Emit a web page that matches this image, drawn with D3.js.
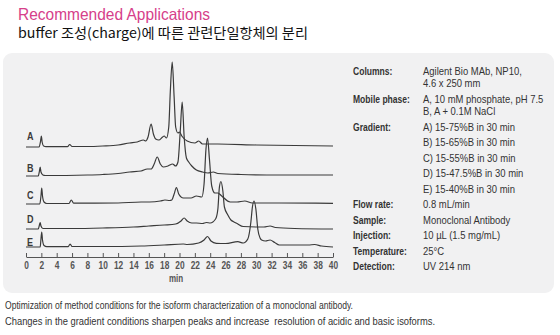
<!DOCTYPE html>
<html>
<head>
<meta charset="utf-8">
<script src="https://cdn.jsdelivr.net/npm/d3@7/dist/d3.min.js"></script>
<style>
  html, body { margin: 0; padding: 0; background: #ffffff; }
  svg { display: block; }
  text { font-family: "Liberation Sans", Arial, sans-serif; }
</style>
</head>
<body>
<svg id="chart" width="560" height="335"></svg>
<script>
// Ion-exchange chromatograms of a monoclonal antibody, one trace per gradient.
// Each trace: [retention time (min), detector signal (a.u.)]
const traceNames = ["A", "B", "C", "D", "E"];

const traceA = [
  [0, 0], [1.7, 0], [1.9, 6], [2.0, 11], [2.1, 5], [2.3, 1], [2.6, 0.3],
  [5.4, 0.3], [5.7, 2.5], [6.0, 0.5], [8, 0.5], [10, 1], [12, 2], [13.5, 4],
  [14.5, 5], [15.3, 7], [15.6, 6], [15.9, 10], [16.3, 23], [16.6, 13], [16.9, 8],
  [17.3, 7], [17.8, 10], [18.0, 11], [18.3, 9], [18.6, 20], [18.8, 55], [19.05, 85],
  [19.3, 50], [19.5, 20], [19.8, 14], [20.0, 15], [20.3, 11], [21, 6], [22, 4],
  [22.5, 6], [23, 3], [25, 3], [30, 2], [40, 1]
];
const traceB = [
  [0, 0], [1.6, 0], [1.75, 5], [1.85, 9], [1.95, 4], [2.2, 1], [2.5, 0.5],
  [8, 1], [10, 1.5], [12, 2.5], [13.5, 4], [15, 5], [15.8, 7], [16.3, 7],
  [16.7, 12], [17.1, 19], [17.5, 12], [17.9, 9], [18.5, 10], [19.1, 12], [19.5, 10],
  [19.8, 14], [20.1, 45], [20.35, 74], [20.6, 40], [20.9, 18], [21.2, 14], [21.6, 10],
  [22.2, 6], [23, 4], [23.7, 3], [24.4, 4], [25, 2.5], [28, 1.5], [33, 1], [40, 1]
];
const traceC = [
  [0, 0], [1.8, 0], [1.95, 8], [2.05, 16], [2.15, 8], [2.35, 2], [2.7, 0.5],
  [5.6, 0.5], [5.9, 4], [6.2, 0.8], [9, 0.8], [12, 1], [15, 2], [16.1, 2],
  [17.5, 3], [18.1, 4], [18.7, 3.5], [19.0, 4], [19.3, 10], [19.6, 16.5], [19.9, 10],
  [20.5, 6], [21.5, 6], [22.2, 8], [22.9, 7], [23.2, 20], [23.45, 55], [23.65, 66],
  [23.9, 45], [24.2, 18], [24.6, 11], [25.0, 11], [25.5, 8], [26.6, 2], [27.5, 2],
  [28.5, 3], [29.5, 1], [33, 1], [40, 0.7]
];
const traceD = [
  [0, 0], [1.6, 0], [1.75, 4], [1.85, 6.5], [1.95, 3], [2.2, 0.5], [6, 0.5],
  [10, 1], [14, 2], [16, 3], [18, 4], [19.5, 5], [20.2, 8], [20.6, 11], [21.0, 8],
  [21.6, 6], [22.2, 6], [23.0, 5.5], [23.5, 6.5], [24.0, 6], [24.7, 10], [25.0, 20],
  [25.2, 42], [25.4, 47.5], [25.65, 38], [25.85, 22], [26.3, 14], [26.7, 9], [27.0, 7.5],
  [27.5, 5.5], [28.3, 2.5], [30, 2], [31.0, 2], [31.8, 3], [32.5, 1.5], [35, 0.5], [40, 0]
];
const traceE = [
  [0, 0], [1.85, 0], [1.95, 8], [2.05, 15], [2.15, 7], [2.35, 1.5], [2.7, 0.3],
  [5.5, 0.3], [5.75, 3], [6.0, 0.5], [10, 0.5], [15, 1], [18, 2], [20.5, 3], [21, 2.5],
  [22.5, 4], [23.2, 7], [23.65, 10.5], [24.1, 6], [24.8, 3.7], [26, 3.5], [27.6, 5.3],
  [28.3, 4], [28.9, 8], [29.3, 25], [29.5, 40], [29.7, 46], [29.95, 38], [30.2, 18],
  [30.5, 9], [30.7, 7], [31.2, 6], [31.8, 7], [32.4, 4.5], [33.0, 2], [35, 2],
  [36.8, 2], [37.6, 2.5], [38.5, 1], [40, 0]
];
const traces = [traceA, traceB, traceC, traceD, traceE];

// x-axis ticks (min)
const xTicks = [0, 2, 4, 6, 8, 10, 12, 14, 16, 18, 20, 22, 24, 26, 28, 30, 32, 34, 36, 38, 40];

// Method conditions listed beside the chromatograms
const conditionLabels = ["Columns:", "Mobile phase:", "Gradient:", "Flow rate:", "Sample:", "Injection:", "Temperature:", "Detection:"];
const conditionValues = [
  ["Agilent Bio MAb, NP10,", "4.6 x 250 mm"],
  ["A, 10 mM phosphate, pH 7.5", "B, A + 0.1M NaCl"],
  ["A) 15-75%B in 30 min", "B) 15-65%B in 30 min", "C) 15-55%B in 30 min", "D) 15-47.5%B in 30 min", "E) 15-40%B in 30 min"],
  ["0.8 mL/min"],
  ["Monoclonal Antibody"],
  ["10 µL (1.5 mg/mL)"],
  ["25°C"],
  ["UV 214 nm"]
];

const titleText = "Recommended Applications";
const subtitleText = "buffer 조성(charge)에 따른 관련단일항체의 분리";
const captionLines = [
  "Optimization of method conditions for the isoform characterization of a monoclonal antibody.",
  "Changes in the gradient conditions sharpen peaks and increase  resolution of acidic and basic isoforms."
];

// ---- layout ----
const svg = d3.select("#chart");
const axisY = 257;
const plotTop = 57;
const stackOffset = [110, 81, 53, 28, 10];   // baseline of each trace above the axis (signal units)

const x = d3.scaleLinear().domain([0, 40]).range([26, 333]);
const y = d3.scaleLinear().domain([0, axisY - plotTop]).range([axisY, plotTop]);

// condensed text: regular glyphs squeezed horizontally
function narrowText(parent, px, py, str, opts) {
  const o = Object.assign({ size: 10, weight: "normal", sx: 0.84, fill: "#333", anchor: "start" }, opts || {});
  return parent.append("text")
    .attr("transform", `translate(${px},${py}) scale(${o.sx},1)`)
    .attr("dy", "0.35em")
    .attr("font-size", o.size)
    .attr("font-weight", o.weight)
    .attr("fill", o.fill)
    .attr("text-anchor", o.anchor)
    .style("white-space", "pre")
    .text(str);
}

// panel background
svg.append("rect")
  .attr("x", 3).attr("y", 53).attr("width", 551).attr("height", 240)
  .attr("rx", 9).attr("ry", 9)
  .attr("fill", "#f1f1f2");

// title & subtitle
svg.append("text")
  .attr("x", 18).attr("y", 20)
  .attr("font-size", 16.5)
  .attr("fill", "#d6408a")
  .attr("textLength", 192)
  .attr("lengthAdjust", "spacingAndGlyphs")
  .text(titleText);

svg.append("text")
  .attr("x", 18).attr("y", 38)
  .style("font-family", "'Noto Sans CJK KR', sans-serif")
  .attr("font-size", 13.5)
  .attr("fill", "#111")
  .attr("textLength", 290)
  .attr("lengthAdjust", "spacingAndGlyphs")
  .text(subtitleText);

// traces
const line = d3.line().curve(d3.curveMonotoneX);
traces.forEach((tr, i) => {
  svg.append("path")
    .attr("d", line(tr.map(([t, s]) => [x(t), y(s + stackOffset[i])])))
    .attr("fill", "none")
    .attr("stroke", "#3a3a3a")
    .attr("stroke-width", 1.2)
    .attr("stroke-linejoin", "round");
});

// trace labels
const labelCentres = [136, 168, 195, 219, 242];
traceNames.forEach((n, i) => {
  narrowText(svg, 27, labelCentres[i], n, { size: 11, weight: "bold", sx: 0.82, fill: "#3a3a3a" });
});

// x axis
const axis = d3.axisBottom(x)
  .tickValues(xTicks)
  .tickFormat(d3.format("d"))
  .tickSizeInner(-4)
  .tickSizeOuter(0)
  .tickPadding(4);

const gAxis = svg.append("g")
  .attr("transform", `translate(0,${axisY})`)
  .call(axis);
gAxis.attr("font-family", null).attr("font-size", null);
gAxis.select(".domain").attr("stroke", "#555").attr("stroke-width", 1);
gAxis.selectAll(".tick line").attr("stroke", "#555");
gAxis.selectAll(".tick text")
  .attr("transform", "scale(0.76,1)")
  .attr("font-size", 11).attr("font-weight", "bold")
  .attr("fill", "#555");

narrowText(svg, 176, 278, "min", { size: 10, weight: "bold", sx: 0.8, fill: "#555", anchor: "middle" });

// method conditions
const firstRowY = 71, rowGap = 15.5, contGap = 12.5;
let yy = firstRowY;
conditionLabels.forEach((lab, i) => {
  narrowText(svg, 353, yy, lab, { size: 10.3, weight: "bold", sx: 0.83 });
  const vals = conditionValues[i];
  const gap = vals.length > 2 ? rowGap : contGap;
  vals.forEach((v, j) => {
    narrowText(svg, 423, yy + j * gap, v, { size: 10.3, sx: 0.92 });
  });
  yy += (vals.length - 1) * gap + rowGap;
});

// caption
const captionWidths = [348, 430];
captionLines.forEach((c, i) => {
  svg.append("text")
    .attr("x", 5).attr("y", 305 + i * 16.5).attr("dy", "0.35em")
    .attr("font-size", 11)
    .attr("fill", "#333")
    .attr("textLength", captionWidths[i])
    .attr("lengthAdjust", "spacingAndGlyphs")
    .style("white-space", "pre")
    .text(c);
});
</script>
</body>
</html>
